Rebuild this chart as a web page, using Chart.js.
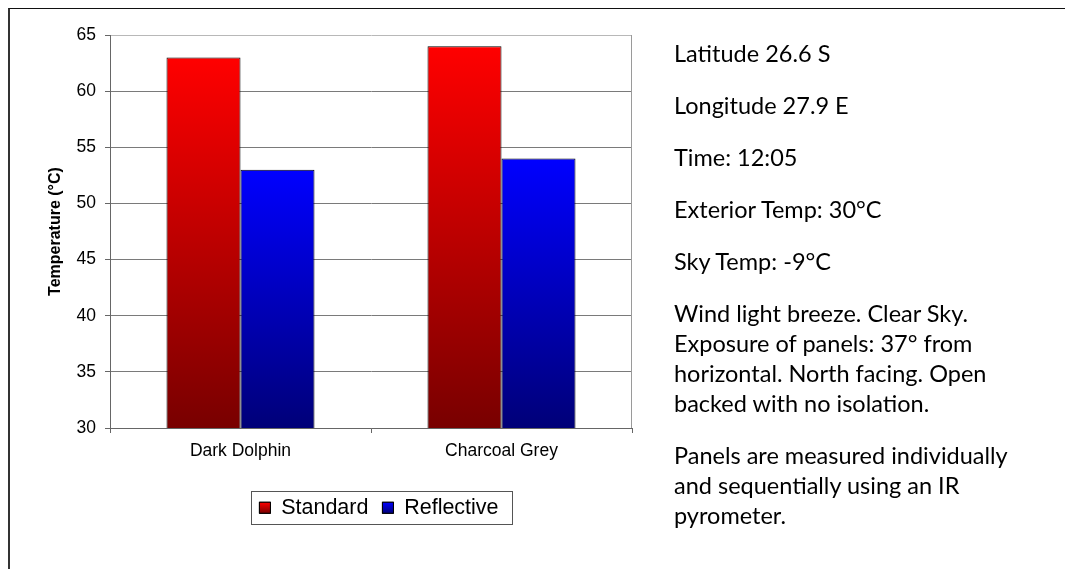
<!DOCTYPE html>
<html>
<head>
<meta charset="utf-8">
<script src="https://cdn.jsdelivr.net/npm/chart.js@4.4.1/dist/chart.umd.min.js"></script>
<style>
  html, body { margin: 0; padding: 0; background: #fff; }
  body { width: 1065px; height: 569px; position: relative; overflow: hidden; }
  #frame { position: absolute; left: 8px; top: 8px; width: 1100px; height: 600px;
           border-top: 1px solid #111; border-left: 2px solid #333; }
  #wrap { position: absolute; left: 0; top: 0; width: 1065px; height: 569px; }
  #notes { position: absolute; left: 674px; top: 38px; font-family: Lato, sans-serif;
           font-size: 23.5px; line-height: 30px; color: #000; white-space: nowrap; }
  #notes p { margin: 0 0 22px 0; }
</style>
</head>
<body>
<div id="frame"></div>
<div id="wrap"><canvas id="chart" width="1065" height="569"></canvas></div>
<div id="notes">
  <p>Latitude 26.6 S</p>
  <p>Longitude 27.9 E</p>
  <p>Time: 12:05</p>
  <p>Exterior Temp: 30°C</p>
  <p>Sky Temp: -9°C</p>
  <p>Wind light breeze. Clear Sky.<br>Exposure of panels: 37° from<br>horizontal. North facing. Open<br>backed with no isolation.</p>
  <p>Panels are measured individually<br>and sequentially using an IR<br>pyrometer.</p>
</div>
<script>

var categories = ['Dark Dolphin', 'Charcoal Grey'];
var standardTemps = [63, 64];
var reflectiveTemps = [53, 54];
var yTicks = [30, 35, 40, 45, 50, 55, 60, 65];

var LEGEND_SHIFT = 8;

// vertical shade from the top of each bar down to the axis, like the Excel fill
function barShade(top, bottom) {

  return function(context) {

    var chart = context.chart;
    if (!chart.chartArea || context.type !== 'data') {
      return top;
    }
    var y = chart.scales.y;
    var g = chart.ctx.createLinearGradient(0, y.getPixelForValue(context.parsed.y), 0, y.getPixelForValue(y.min));
    g.addColorStop(0, top);
    g.addColorStop(1, bottom);
    return g;
  };
}

var shades = [['#ff0000', '#780000'], ['#0000ff', '#000078']];

var plotFrame = {
  id: 'plotFrame',
  afterLayout: function(chart) {

    // legend sits a little right of the plot centre in the original
    chart.legend.left += LEGEND_SHIFT;
    chart.legend.right += LEGEND_SHIFT;
  },
  afterDraw: function(chart) {

    var ctx = chart.ctx;
    var a = chart.chartArea;
    ctx.save();

    // right edge of the plot area
    ctx.strokeStyle = '#9a9a9a';
    ctx.lineWidth = 1;
    ctx.beginPath();
    ctx.moveTo(Math.round(a.right) - 0.5, a.top);
    ctx.lineTo(Math.round(a.right) - 0.5, a.bottom);
    ctx.stroke();

    // legend markers with the same shade, plus the box round the legend
    var lg = chart.legend;
    var lab = lg.options.labels;
    var fs = lab.font.size;
    var boxes = lg.legendHitBoxes;
    for (var i = 0; i < boxes.length; i++) {

      var hb = boxes[i];
      var x = hb.left;
      var y = hb.top + Math.max((fs - lab.boxHeight) / 2, 0);
      var g = ctx.createLinearGradient(0, y, 0, y + lab.boxHeight);
      g.addColorStop(0, shades[i][0]);
      g.addColorStop(1, shades[i][1]);
      ctx.fillStyle = g;
      ctx.fillRect(x, y, lab.boxWidth, lab.boxHeight);
      ctx.strokeStyle = '#000';
      ctx.strokeRect(x, y, lab.boxWidth, lab.boxHeight);
    }
    var first = boxes[0];
    var last = boxes[boxes.length - 1];
    var mid = first.top + first.height / 2;
    var left = Math.round(first.left - 8) + 0.5;
    var right = Math.round(last.left + last.width + 13) + 0.5;
    ctx.strokeStyle = '#555';
    ctx.strokeRect(left, Math.round(mid - 17) + 0.5, right - left, 33);

    ctx.restore();
  }
};

function init() {

  Chart.defaults.font.family = "'Liberation Sans', Arial, sans-serif";
  Chart.defaults.color = '#000';

  var ctx = document.getElementById('chart');
  new Chart(ctx, {

    type: 'bar',
    data: {

      labels: categories,
      datasets: [{

        label: 'Standard',
        data: standardTemps,
        backgroundColor: barShade(shades[0][0], shades[0][1]),
        borderColor: '#000',
        borderWidth: 1,
        borderSkipped: false
      }, {

        label: 'Reflective',
        data: reflectiveTemps,
        backgroundColor: barShade(shades[1][0], shades[1][1]),
        borderColor: '#000',
        borderWidth: 1,
        borderSkipped: false
      }]
    },
    options: {

      responsive: false,
      animation: false,
      devicePixelRatio: 1,
      categoryPercentage: 0.567,
      barPercentage: 1,
      layout: {
        padding: { left: 46, top: 35, right: 433, bottom: 40.5 }
      },
      plugins: {
        legend: {
          position: 'bottom',
          fullSize: false,
          labels: {
            boxWidth: 11,
            boxHeight: 11,
            padding: 14,
            color: '#000',
            font: { size: 21.5 }
          }
        },
        tooltip: { enabled: false }
      },
      scales: {
        x: {
          grid: { offset: true, drawOnChartArea: false, tickLength: 5, color: '#666' },
          border: { color: '#666' },
          ticks: { padding: 8, color: '#000', font: { size: 17.5 } },
          afterFit: function(scale) { scale.height = 55; }
        },
        y: {
          min: yTicks[0],
          max: yTicks[yTicks.length - 1],
          ticks: {
            stepSize: yTicks[1] - yTicks[0],
            padding: 9,
            color: '#000',
            font: { size: 17.5 }
          },
          grid: {
            tickLength: 5,
            tickColor: '#666',
            color: function(c) {
              return c.tick && c.tick.value === yTicks[yTicks.length - 1] ? '#b8b8b8' : '#7a7a7a';
            }
          },
          border: { color: '#666' },
          title: {
            display: true,
            text: 'Temperature (°C)',
            padding: 0,
            font: { size: 16, weight: 'bold' }
          },
          afterFit: function(scale) { scale.width = 64; }
        }
      }
    },
    plugins: [plotFrame]
  });
}

init();
</script>
</body>
</html>
